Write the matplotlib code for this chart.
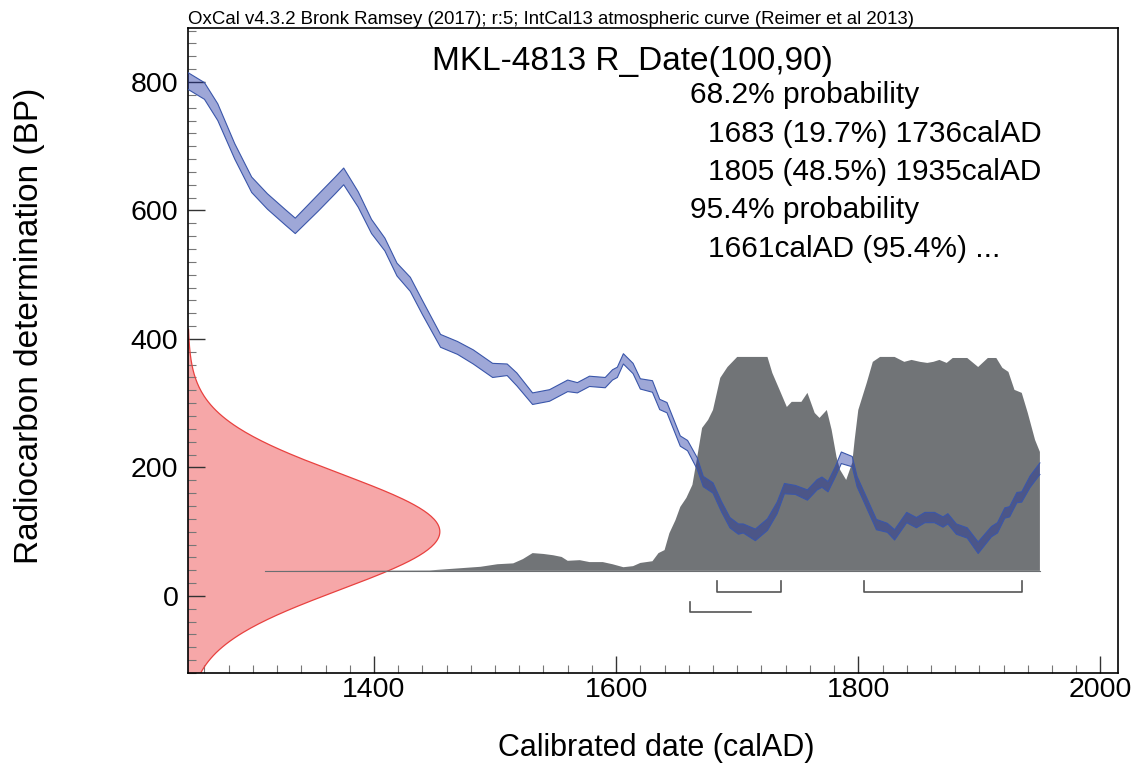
"""
OxCal-style single date plot: R_Date(100,90) calibrated against IntCal13.
"""

import matplotlib
matplotlib.use("Agg")
import matplotlib.pyplot as plt
from matplotlib.ticker import MultipleLocator
import numpy as np

plt.rcParams["font.family"] = ["Liberation Sans", "DejaVu Sans"]

# Radiocarbon measurement (BP, 1 sigma)
R_DATE = (100, 90)

# Calibration curve (IntCal13): calAD, BP, 1 sigma
cal_years = [1246, 1260, 1271, 1285, 1299, 1312, 1327, 1335, 1354, 1368, 1375,
             1387, 1398, 1409, 1419, 1430, 1440, 1455, 1469, 1482, 1498, 1510,
             1518, 1531, 1545, 1560, 1568, 1578, 1591, 1597, 1601, 1606, 1614,
             1620, 1630, 1636, 1642, 1653, 1659, 1667, 1672, 1680, 1687, 1694,
             1701, 1705, 1715, 1725, 1733, 1739, 1748, 1758, 1766, 1770, 1775,
             1781, 1786, 1795, 1799, 1805, 1815, 1824, 1830, 1840, 1848, 1855,
             1863, 1870, 1874, 1881, 1890, 1899, 1910, 1915, 1921, 1925, 1931,
             1935, 1942, 1950]
cal_bp = [802, 786, 753, 692, 640, 614, 589, 576, 612, 639, 653,
          617, 575, 547, 508, 485, 449, 397, 386, 372, 351, 352,
          337, 307, 312, 327, 324, 334, 332, 344, 348, 369, 354,
          330, 326, 298, 293, 241, 234, 206, 178, 168, 139, 114,
          104, 105, 95, 111, 137, 167, 165, 157, 173, 177, 170,
          193, 215, 209, 178, 153, 111, 106, 95, 122, 114, 122,
          122, 115, 120, 104, 98, 75, 100, 106, 129, 131, 153,
          154, 178, 198]
cal_err = [13, 13, 13, 12, 12, 12, 12, 12, 13, 13, 13,
           12, 11, 10, 10, 11, 11, 10, 10, 11, 11, 9,
           10, 9, 9, 9, 8, 8, 8, 8, 8, 8, 8,
           8, 9, 8, 8, 8, 8, 9, 8, 8, 8, 8,
           8, 7, 9, 9, 9, 8, 7, 8, 8, 8, 8,
           8, 9, 8, 8, 8, 8, 7, 8, 8, 8, 8,
           8, 8, 8, 8, 8, 9, 8, 8, 8, 8, 8,
           8, 9, 9]

# Calibrated probability (relative to max)
post_years = [1310, 1446, 1488, 1502, 1515, 1523, 1531, 1540, 1548, 1555, 1560,
              1570, 1578, 1589, 1597, 1606, 1614, 1620, 1630, 1635, 1640, 1644,
              1649, 1653, 1658, 1663, 1667, 1671, 1676, 1680, 1686, 1692, 1700,
              1725, 1729, 1735, 1741, 1745, 1753, 1758, 1764, 1768, 1774, 1778,
              1782, 1785, 1790, 1795, 1797, 1800, 1807, 1812, 1818, 1830, 1838,
              1844, 1851, 1857, 1862, 1867, 1873, 1878, 1890, 1899, 1907, 1914,
              1919, 1924, 1929, 1935, 1940, 1946, 1950]
post_prob = [0.0, 0.002, 0.019, 0.031, 0.035, 0.055, 0.083, 0.079, 0.073, 0.065, 0.047,
             0.050, 0.041, 0.041, 0.031, 0.017, 0.022, 0.037, 0.045, 0.083, 0.097, 0.176,
             0.237, 0.299, 0.341, 0.402, 0.533, 0.668, 0.706, 0.752, 0.902, 0.953, 1.0,
             1.0, 0.925, 0.846, 0.766, 0.79, 0.79, 0.832, 0.738, 0.715, 0.752, 0.659,
             0.533, 0.472, 0.425, 0.505, 0.612, 0.752, 0.879, 0.977, 1.0, 1.0, 0.977,
             0.986, 0.977, 0.972, 0.977, 0.986, 0.972, 0.995, 0.995, 0.953, 0.995, 0.995,
             0.949, 0.93, 0.846, 0.832, 0.738, 0.612, 0.556]

# Highest posterior density ranges
hpd_68 = [(1683, 1736), (1805, 1935)]
hpd_95 = [(1661, 1711)]

header = ("OxCal v4.3.2 Bronk Ramsey (2017); r:5; IntCal13 atmospheric curve "
          "(Reimer et al 2013)")
title = "MKL-4813 R_Date(100,90)"
summary = [("68.2% probability", 0),
           ("1683 (19.7%) 1736calAD", 1),
           ("1805 (48.5%) 1935calAD", 1),
           ("95.4% probability", 0),
           ("1661calAD (95.4%) ...", 1)]

XLIM = (1246.4, 2014.5)
YLIM = (-120, 884)

W, H = 1138, 769
fig = plt.figure(figsize=(W / 100, H / 100), dpi=100)
ax = fig.add_axes([188 / W, 1 - 673 / H, 930 / W, 645 / H])
ax.set_xlim(*XLIM)
ax.set_ylim(*YLIM)

# radiocarbon date on the y axis
mu, sd = R_DATE
yy = np.linspace(mu - 4 * sd, mu + 3.5 * sd, 300)
dens = np.exp(-0.5 * ((yy - mu) / sd) ** 2)
ax.fill_betweenx(yy, XLIM[0], XLIM[0] + 208 * dens, facecolor="#F6A7A8",
                 edgecolor="none", zorder=1)
ax.plot(XLIM[0] + 208 * dens, yy, color="#E8413F", lw=0.9, zorder=2)

# calibrated distribution on the x axis
base, height = 39, 333
post = np.array(post_prob)
ax.fill_between(post_years, base, base + height * post, facecolor="#717477",
                edgecolor="none", zorder=3)
ax.plot([post_years[0], post_years[-1]], [base, base], color="#6b6e71",
        lw=0.8, zorder=3)

# calibration curve
c = np.array(cal_bp)
e = np.array(cal_err)
ax.fill_between(cal_years, c - e, c + e, facecolor="#192DA0", alpha=0.42,
                edgecolor="none", zorder=4)
ax.plot(cal_years, c - e, color="#3A56AA", lw=0.8, zorder=5)
ax.plot(cal_years, c + e, color="#3A56AA", lw=0.8, zorder=5)

# ranges
for lo, hi in hpd_68:
    ax.plot([lo, lo, hi, hi], [23, 6, 6, 23], color="#555555", lw=1.2, zorder=5)
for lo, hi in hpd_95:
    ax.plot([lo, lo, hi], [-9, -25, -25], color="#555555", lw=1.2, zorder=5)

# axes styling
ax.xaxis.set_major_locator(MultipleLocator(200))
ax.xaxis.set_minor_locator(MultipleLocator(20))
ax.yaxis.set_major_locator(MultipleLocator(200))
ax.yaxis.set_minor_locator(MultipleLocator(20))
ax.tick_params(which="both", direction="in", top=False, right=False,
               labelsize=20.5)
ax.tick_params(axis="x", pad=3)
ax.tick_params(axis="y", pad=7)
ax.tick_params(which="major", length=12, width=1.0, color="#333333")
ax.tick_params(which="minor", length=6, width=0.8, color="#777777")
for s in ax.spines.values():
    s.set_linewidth(1.2)

fig.text(656 / W, 1 - 748 / H, "Calibrated date (calAD)", fontsize=22,
         ha="center", va="center")
fig.text(30 / W, 1 - 326 / H, "Radiocarbon determination (BP)", fontsize=24,
         ha="center", va="center", rotation=90)

fig.text(188 / W, 1 - 24 / H, header, fontsize=13.4, va="baseline")
fig.text(632 / W, 1 - 70 / H, title, fontsize=24, ha="center", va="baseline")
baselines = [103, 141.5, 180, 218.5, 257]
for (txt, indent), yb in zip(summary, baselines):
    fig.text((690 + 18 * indent) / W, 1 - yb / H, txt, fontsize=21.5,
             va="baseline")

fig.savefig("out.png", dpi=100)
